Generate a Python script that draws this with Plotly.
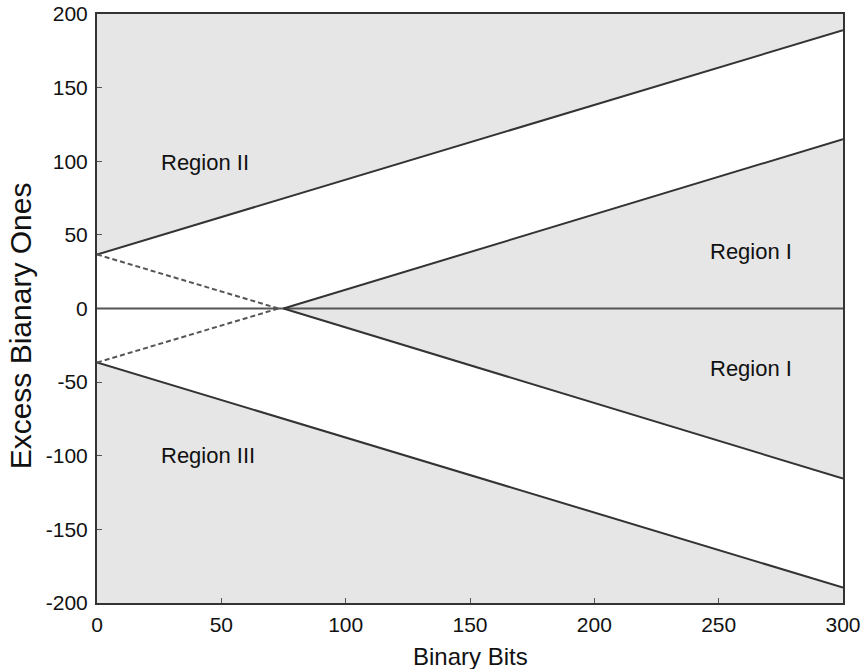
import plotly.graph_objects as go

# Data
x_ends = [0, 300]
upper_outer = [36.7, 189]      # solid, boundary of Region II
lower_outer = [-36.7, -189.5]  # solid, boundary of Region III
inner_x = [75, 300]
inner_upper = [0, 115]         # solid, top of Region I
inner_lower = [0, -115.5]      # solid, bottom of Region I
dash_x = [0, 73]
dash_down = [36.7, 0]
dash_up = [-36.7, 0]
zero_line = [0, 0]

labels = ["Region II", "Region I", "Region I", "Region III"]
label_x = [43.5, 263, 263, 44.5]
label_y = [99, 39, -41, -100]

x_ticks = [0, 50, 100, 150, 200, 250, 300]
x_ticktext = ["0", "50", "100", "150", "200", "250", "300"]
y_ticks = [-200, -150, -100, -50, 0, 50, 100, 150, 200]
y_ticktext = ["-200", "-150", "-100", "-50", "0", "50", "100", "150", "200"]

FILL = "#e6e6e6"
LINE = "#333333"
FONT = "Liberation Sans, Arial, sans-serif"

fig = go.Figure()

# Region II shading
fig.add_trace(go.Scatter(x=[x_ends[0], x_ends[1], x_ends[1], x_ends[0]],
                         y=[upper_outer[0], upper_outer[1], 200, 200],
                         fill="toself", fillcolor=FILL, line=dict(width=0),
                         mode="lines", hoverinfo="skip", showlegend=False))
# Region III shading
fig.add_trace(go.Scatter(x=[x_ends[0], x_ends[1], x_ends[1], x_ends[0]],
                         y=[lower_outer[0], lower_outer[1], -200, -200],
                         fill="toself", fillcolor=FILL, line=dict(width=0),
                         mode="lines", hoverinfo="skip", showlegend=False))
# Region I shading
fig.add_trace(go.Scatter(x=[inner_x[0], inner_x[1], inner_x[1], inner_x[0]],
                         y=[inner_upper[0], inner_upper[1], inner_lower[1], inner_lower[0]],
                         fill="toself", fillcolor=FILL, line=dict(width=0),
                         mode="lines", hoverinfo="skip", showlegend=False))

def line(xs, ys, dash="solid", color=LINE, width=2):
    fig.add_trace(go.Scatter(x=xs, y=ys, mode="lines",
                             line=dict(color=color, width=width, dash=dash),
                             hoverinfo="skip", showlegend=False))

line(x_ends, zero_line, color="#555555", width=2)
line(x_ends, upper_outer)
line(x_ends, lower_outer)
line(inner_x, inner_upper)
line(inner_x, inner_lower)
line(dash_x, dash_down, dash="5px,3px", color="#555555")
line(dash_x, dash_up, dash="5px,3px", color="#555555")

for t, xv, yv in zip(labels, label_x, label_y):
    fig.add_annotation(x=xv, y=yv, text=t, showarrow=False,
                       font=dict(size=22, color="#111111", family=FONT))

# axis titles as annotations (x title sits partly below the visible page)
fig.add_annotation(x=0.5, y=-0.064, xref="paper", yref="paper", yanchor="top",
                   text="Binary Bits", showarrow=False,
                   font=dict(size=24, color="#111111", family=FONT))
fig.add_annotation(x=-0.103, y=0.47, xref="paper", yref="paper",
                   xanchor="center", yanchor="middle", textangle=-90,
                   text="Excess Bianary Ones", showarrow=False,
                   font=dict(size=30, color="#111111", family=FONT))

axis_common = dict(showgrid=False, zeroline=False, showline=True, linecolor="#333333",
                   linewidth=2, mirror=True, ticks="inside", ticklen=5, tickcolor="#555555",
                   automargin=False, ticklabeloverflow="allow",
                   tickfont=dict(size=21, color="#111111", family=FONT))

fig.update_xaxes(range=[0, 300], tickvals=x_ticks, ticktext=x_ticktext, **axis_common,
                 ticklabelstandoff=2)
fig.update_yaxes(range=[-200, 200], tickvals=y_ticks, ticktext=y_ticktext, **axis_common,
                 ticklabelstandoff=3)

fig.update_layout(width=862, height=669, margin=dict(l=97, r=19, t=14, b=66),
                  plot_bgcolor="white", paper_bgcolor="white")

fig.write_html("out.html", config={"displayModeBar": False},
               post_script="document.body.style.margin='0';")
